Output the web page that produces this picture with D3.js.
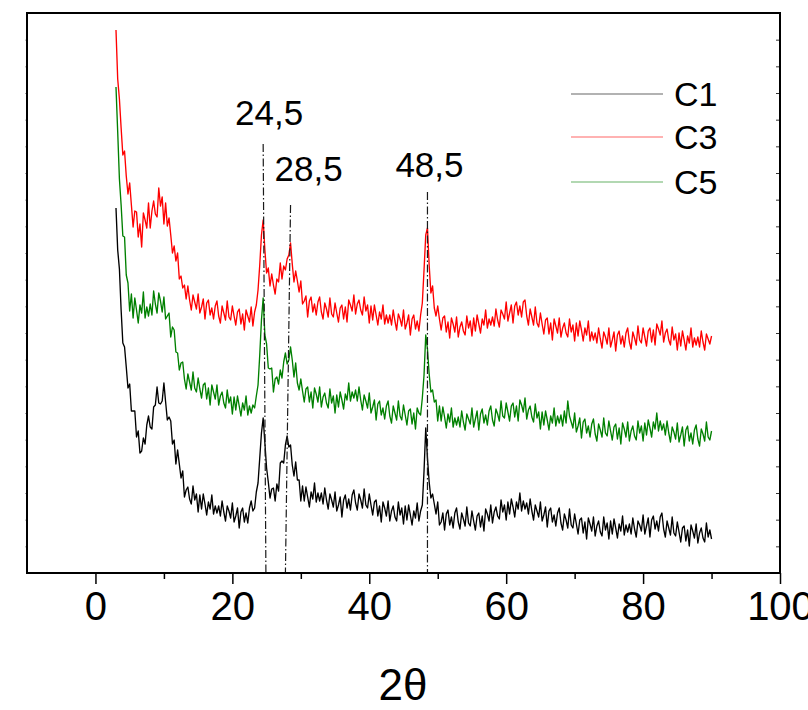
<!DOCTYPE html>
<html>
<head>
<meta charset="utf-8">
<script src="https://cdn.jsdelivr.net/npm/d3@7"></script>
<style>
  html, body { margin: 0; padding: 0; background: #ffffff; }
  svg { display: block; font-family: "Liberation Sans", Arial, Helvetica, sans-serif; }
</style>
</head>
<body>
<svg id="chart" width="808" height="710"></svg>
<script>
// XRD patterns of samples C1, C3 and C5 (stacked, arbitrary intensity units)
const seriesNames  = ["C1", "C3", "C5"];
const seriesColors = ["#000000", "#ff0000", "#008000"];

// scan grid: first angle and step (degrees 2θ)
const angleStart = 3;
const angleStep  = 0.25;

// C1 intensities, one row per 5°
const c1 = [
  365,323,304,263,230,226,206,185,189,162,162,162,136,142,120,122,135,129,148,157,
  146,144,166,168,186,170,169,172,190,171,153,156,152,129,133,109,123,109,95,102,
  76,83,86,74,69,87,73,79,61,78,64,79,69,58,71,64,78,59,67,60,
  67,57,72,61,52,67,62,55,70,51,57,65,45,61,65,51,60,50,65,72,
  62,65,81,90,115,140,155,130,105,91,75,84,85,72,89,82,110,112,110,128,
  137,126,128,108,97,111,93,93,72,87,72,86,76,66,81,74,90,71,80,72,
  80,69,85,73,64,79,73,66,81,62,68,76,56,73,78,65,74,63,78,83,
  70,63,79,73,65,84,68,65,79,68,58,71,73,57,67,51,71,65,57,72,
  52,62,67,56,52,71,58,65,49,67,53,68,58,48,62,55,70,52,62,68,
  102,145,115,91,75,79,69,59,71,48,51,60,43,59,63,48,56,45,60,65,
  51,44,60,54,47,66,50,47,62,52,43,57,60,46,57,42,64,59,52,68,
  50,61,66,57,54,73,61,68,53,71,59,74,66,56,71,64,80,62,72,64,
  70,59,74,62,53,68,62,56,71,52,58,66,46,62,65,51,58,47,60,65,
  50,43,59,53,45,64,48,45,59,49,39,53,55,40,51,34,55,49,42,56,
  37,47,52,41,37,56,43,50,34,52,39,54,45,35,49,42,57,38,48,41,
  49,39,55,44,36,52,48,42,58,39,47,55,36,53,57,44,52,42,56,60,
  44,36,52,45,38,56,40,37,51,41,31,45,47,32,43,27,48,42,35,49,
  30,40,45,35,31,50,36,43,34
];

// C3 intensities, one row per 5°
const c3 = [
  543,494,474,445,418,422,397,379,390,368,346,362,361,336,349,326,360,353,345,370,
  345,362,372,359,356,385,367,376,349,370,347,355,338,320,327,312,320,294,297,285,
  288,274,287,273,263,278,271,264,279,260,266,274,254,270,273,258,265,254,267,272,
  257,250,267,260,253,272,256,253,267,257,248,261,264,249,259,243,263,257,251,266,
  247,261,268,283,308,338,353,323,300,305,287,299,288,279,294,291,310,294,307,303,
  314,318,330,309,291,302,292,281,292,269,272,277,256,272,276,261,269,258,271,276,
  261,254,270,264,256,275,259,256,270,260,251,265,268,254,266,251,273,268,262,278,
  259,269,273,263,258,276,262,268,250,267,253,268,258,248,261,254,268,249,258,250,
  258,248,263,252,243,259,254,247,263,244,250,258,238,254,258,244,252,242,258,270,
  303,338,345,308,280,287,265,257,267,254,243,255,257,241,251,235,255,249,241,256,
  236,246,251,242,238,257,245,252,237,255,242,258,249,240,254,248,263,245,254,248,
  256,247,264,253,246,263,259,254,271,252,260,268,250,267,271,258,267,256,271,273,
  257,248,264,256,248,266,250,246,260,249,239,253,255,239,250,233,254,247,240,255,
  236,245,250,240,236,254,241,248,232,250,237,252,243,232,245,238,252,232,241,233,
  240,230,245,234,225,241,236,229,245,226,233,241,222,238,242,229,237,226,240,245,
  231,224,241,235,228,247,233,230,245,236,227,242,245,231,243,228,249,244,238,252,
  231,240,244,233,228,246,233,239,223,240,227,242,233,223,237,230,245,226,235,228,
  236,226,242,231,223,239,234,229,237
];

// C5 intensities, one row per 5°
const c5 = [
  486,441,394,368,337,336,298,290,262,279,255,275,263,250,268,260,281,255,266,257,
  269,258,282,269,260,280,272,261,276,254,257,260,236,246,243,221,220,203,210,211,
  194,184,199,191,183,201,185,181,195,184,175,188,190,174,185,168,188,181,174,188,
  168,177,181,170,165,183,170,176,159,176,163,177,167,157,170,163,177,158,167,160,
  168,165,177,188,218,253,275,238,229,205,204,205,181,194,196,189,203,195,211,220,
  209,213,226,213,196,210,190,183,194,182,171,184,186,171,181,165,185,179,171,186,
  166,176,180,170,165,184,170,177,160,178,166,181,173,164,179,173,190,172,181,175,
  183,172,186,173,163,178,172,165,180,160,166,173,153,169,172,158,165,154,167,172,
  157,150,167,160,153,172,157,153,168,158,148,162,164,149,160,144,165,160,158,175,
  198,238,224,199,181,183,171,173,152,167,152,166,156,145,159,151,165,146,155,148,
  156,146,162,151,143,159,154,149,165,146,154,162,143,159,164,150,158,148,162,167,
  153,147,164,159,152,172,157,155,170,161,152,167,170,156,167,152,173,168,161,175,
  154,163,167,156,151,169,155,161,144,161,148,162,153,143,157,150,165,147,157,150,
  158,147,162,150,172,157,151,145,160,141,147,155,135,151,154,140,147,136,149,154,
  139,132,149,143,136,155,140,137,152,142,133,146,149,134,145,129,150,144,136,151,
  132,142,147,137,133,152,140,147,132,150,138,153,145,136,151,144,160,142,152,143,
  149,138,152,140,131,146,141,134,150,131,138,146,127,143,147,132,140,129,143,148,
  134,127,144,139,132,151,136,133,142
];

const seriesValues = [c1, c3, c5];

// x axis
const xDomain = [-10, 100];
const xMajorTicks = [0, 20, 40, 60, 80, 100];
const xMinorTicks = [10, 30, 50, 70, 90];
const xTitle = "2θ";

// intensity axis: unlabelled, 21 equal divisions
const yDomain = [0, 560];
const yDivisions = 21;

// marked reflections: label, angle at the label, angle where the guide meets the axis, guide top intensity
const peakLabels = ["24,5", "28,5", "48,5"];
const peakAngles = [24.5, 28.5, 48.5];
const peakFeet   = [24.9, 27.75, 48.5];
const peakTops   = [429, 368, 381];

// ---------- layout ----------
const plot = { left: 27, right: 780, top: 13, bottom: 573 };

const svg = d3.select("#chart");

const x = d3.scaleLinear().domain(xDomain).range([plot.left, plot.right]);
const y = d3.scaleLinear().domain(yDomain).range([plot.bottom, plot.top]);

// curves
const line = d3.line()
  .x(d => x(d[0]))
  .y(d => y(d[1]));

const curves = svg.append("g").attr("class", "curves");
seriesValues.forEach((vals, k) => {
  const pts = vals.map((v, i) => [angleStart + i * angleStep, v]);
  curves.append("path")
    .datum(pts)
    .attr("fill", "none")
    .attr("stroke", seriesColors[k])
    .attr("stroke-width", 1.35)
    .attr("stroke-linejoin", "round")
    .attr("d", line);
});

// dash-dot guides at the marked reflections
const guides = svg.append("g").attr("class", "guides");
peakAngles.forEach((a, i) => {
  guides.append("line")
    .attr("x1", x(a)).attr("y1", y(peakTops[i]))
    .attr("x2", x(peakFeet[i])).attr("y2", y(0))
    .attr("stroke", "#1a1a1a")
    .attr("stroke-width", 1.2)
    .attr("stroke-dasharray", "8,2.5,1.5,2.5");
});

// guide labels
const labelPos = [
  { dx: 6,  y: 125 },
  { dx: 18, y: 181 },
  { dx: 2,  y: 177 }
];
peakLabels.forEach((t, i) => {
  svg.append("text")
    .attr("x", x(peakAngles[i]) + labelPos[i].dx)
    .attr("y", labelPos[i].y)
    .attr("text-anchor", "middle")
    .attr("font-size", 35)
    .attr("fill", "#000")
    .text(t);
});

// small unlabelled ticks on the side axes
const yTickValues = d3.range(1, yDivisions).map(k => yDomain[1] * k / yDivisions);
const gyLeft = svg.append("g")
  .attr("transform", `translate(${plot.left},0)`)
  .call(d3.axisLeft(y).tickValues(yTickValues).tickSize(2).tickFormat(""));
gyLeft.select(".domain").remove();
gyLeft.selectAll(".tick line").attr("stroke", "#aaa").attr("stroke-width", 1);

const gyRight = svg.append("g")
  .attr("transform", `translate(${plot.right},0)`)
  .call(d3.axisLeft(y).tickValues(yTickValues).tickSize(4).tickFormat(""));
gyRight.select(".domain").remove();
gyRight.selectAll(".tick line").attr("stroke", "#333").attr("stroke-width", 1);

// frame
svg.append("rect")
  .attr("x", plot.left).attr("y", plot.top)
  .attr("width", plot.right - plot.left)
  .attr("height", plot.bottom - plot.top)
  .attr("fill", "none")
  .attr("stroke", "#000")
  .attr("stroke-width", 2);

// bottom axis
const xAxis = d3.axisBottom(x)
  .tickValues(xMajorTicks)
  .tickSize(11)
  .tickSizeOuter(0)
  .tickPadding(8)
  .tickFormat(d3.format("d"));

const gx = svg.append("g")
  .attr("transform", `translate(0,${plot.bottom})`)
  .call(xAxis);
gx.select(".domain").remove();
gx.selectAll(".tick line").attr("stroke", "#000").attr("stroke-width", 1.5);
gx.selectAll(".tick text")
  .attr("font-size", 40)
  .attr("font-family", "Liberation Sans, Arial, sans-serif")
  .attr("fill", "#000")
  .attr("dy", "0.71em");

const gxMinor = svg.append("g")
  .attr("transform", `translate(0,${plot.bottom})`)
  .call(d3.axisBottom(x).tickValues(xMinorTicks).tickSize(6).tickFormat(""));
gxMinor.select(".domain").remove();
gxMinor.selectAll(".tick line").attr("stroke", "#000").attr("stroke-width", 1.5);

// axis title
svg.append("text")
  .attr("x", 403)
  .attr("y", 700)
  .attr("text-anchor", "middle")
  .attr("font-size", 44)
  .attr("fill", "#000")
  .text(xTitle);

// legend
const legend = svg.append("g").attr("class", "legend");
const legendRows = [94, 137, 182];
seriesNames.forEach((name, k) => {
  legend.append("line")
    .attr("x1", 571).attr("x2", 663)
    .attr("y1", legendRows[k]).attr("y2", legendRows[k])
    .attr("stroke", seriesColors[k])
    .attr("stroke-opacity", 0.6)
    .attr("stroke-width", 1.2);
  legend.append("text")
    .attr("x", 674)
    .attr("y", legendRows[k] + 12)
    .attr("font-size", 34)
    .attr("fill", "#000")
    .text(name);
});
</script>
</body>
</html>
